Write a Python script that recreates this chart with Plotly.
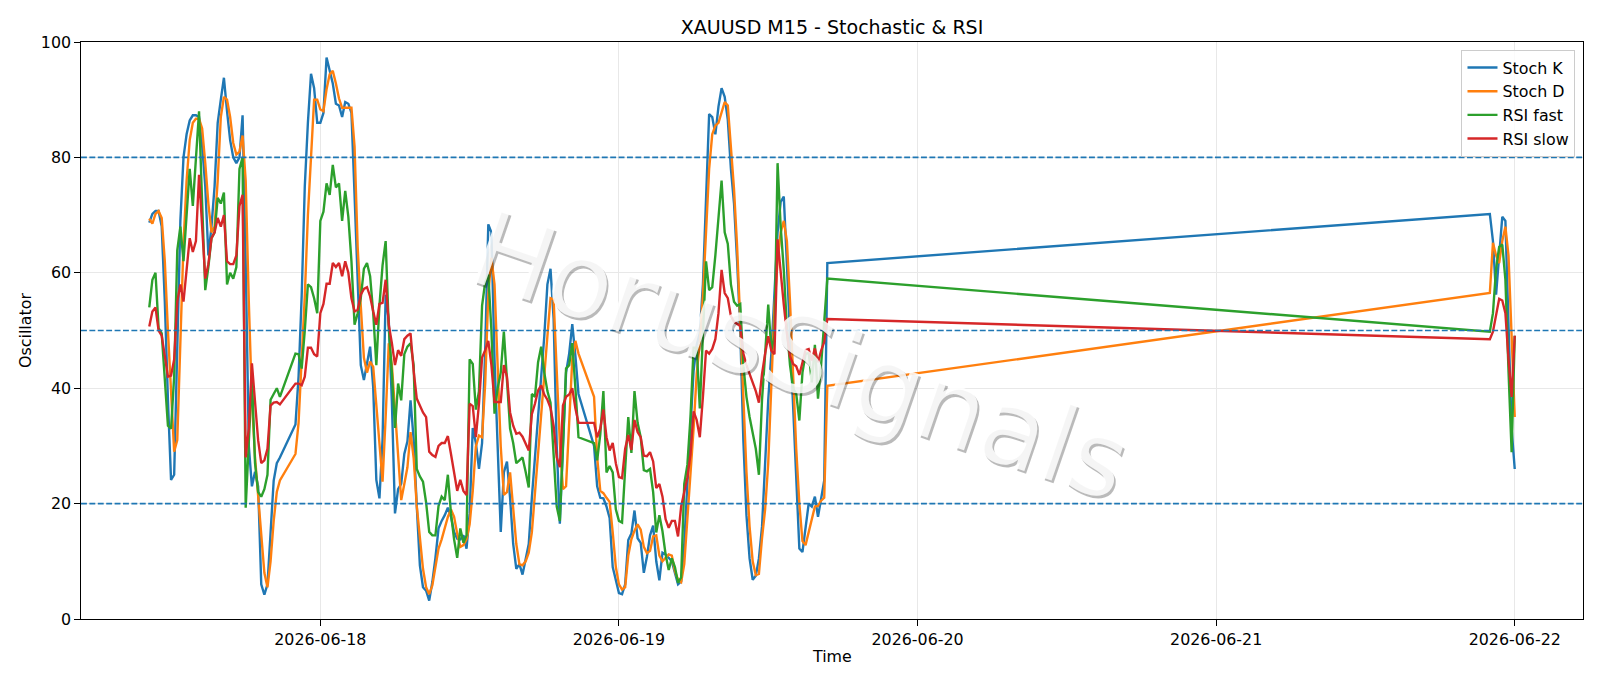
import pandas as pd
import plotly.graph_objects as go

# ---------------- data ----------------
# M15 bars, grouped in trading sessions (start time, number of bars)
session_starts = ["2026-06-17 10:15", "2026-06-17 22:00", "2026-06-18 22:00", "2026-06-21 22:00"]
session_bars = [43, 92, 76, 9]

stoch_k = [
    # session 1
    68.7, 70.2, 70.7, 70.7, 68, 55, 38, 24.1, 25, 45,
    69, 80, 84, 86.4, 87.3, 87.3, 87, 82, 75, 63,
    68, 75, 86, 90, 93.8, 88, 83, 80, 79, 80,
    87.3, 62, 30, 23, 25.5, 23, 6, 4.2, 6, 15,
    24, 27, 28,
    # session 2
    33.7, 42, 56, 75, 86, 94.5, 92, 86,
    86, 87.7, 97.3, 94.9, 92.8, 89.3, 89, 87, 89.6, 89.3,
    87.7, 73.5, 58.8, 44, 41.4, 44, 47.2, 40.1, 24.1, 20.9,
    31.1, 56.2, 51.7, 37.6, 18.3, 22.5, 23.4, 28.6, 30.8, 37.9,
    31.1, 19.6, 9.3, 5.5, 4.9, 3.2, 6.4, 10.6, 15.7, 17,
    18, 19.3, 17.7, 15.1, 13.9, 13.8, 14.5, 12.2, 18.3, 33.1,
    30.5, 26, 30.5, 46.6, 68.4, 67, 45, 30, 15.1, 25.4,
    27.3, 21, 13, 8.7, 9.5, 7.7, 10.5, 13, 21, 28,
    36, 42, 49, 58, 60.7, 52, 30, 16.5, 29, 42.7,
    46, 51.1, 45.6, 39,
    # session 3
    30, 23, 21, 20.9, 19.5, 17.5, 9, 6.9, 4.5, 4.3,
    6, 13.7, 14.8, 18.8, 14, 13.2, 8, 10.8, 14.5, 16.2,
    10, 6.7, 11.5, 11.2, 10.6, 10, 8, 6, 6.5, 13,
    23.4, 32.5, 43, 47.5, 49.5, 58, 73, 87.5, 87, 84,
    88.8, 92, 90.5, 86.5, 78, 72, 62, 50, 31, 18,
    10.5, 6.8, 7.5, 10.5, 16, 28, 38, 46, 57, 67,
    72.3, 73.2, 61.5, 49, 36, 23, 12.2, 11.6, 15.5, 20,
    19.5, 21.2, 17.7, 20.9, 24, 61.7,
    # session 4
    70.2, 65.5, 56.2, 63, 69.7, 69, 52, 33, 26,
]

stoch_d = [
    # session 1
    69.4, 68.5, 70.2, 70.7, 69.5, 62, 50, 40, 29, 31,
    48, 65, 76, 83, 86, 86.7, 86.7, 85, 79, 72,
    67, 68, 76, 87, 90.5, 90, 87, 82.5, 80.5, 81,
    83.8, 76, 55, 38, 28, 21, 14, 8, 5.5, 10,
    17, 22, 24,
    # session 2
    28.6, 34, 44, 56, 70, 81, 90, 90,
    88.3, 88, 91.8, 94.4, 95, 92.8, 90.2, 88.6, 88.6, 88.6,
    88.6, 81.9, 64.5, 54.3, 45.3, 42.7, 44.6, 43.7, 36.9, 29.9,
    23.8, 35, 47.8, 44, 36.3, 29.9, 20.6, 23.4, 26.3, 32.4,
    27.9, 19.6, 13.8, 8.7, 5.5, 4.3, 5.8, 8.7, 12.2, 13.8,
    15.7, 17.7, 19, 17.7, 14.8, 12.5, 12.8, 13.8, 16.4, 22.2,
    29.9, 31.8, 31.5, 40.8, 56.2, 62.6, 58, 42.7, 29.9, 21.5,
    22, 25.4, 19.5, 13, 9.5, 9.3, 10, 11.5, 15, 22,
    28, 36.3, 42.7, 49, 55.6, 55.4, 43, 30.5, 22.5, 23,
    34, 45, 48.2, 46,
    # session 3
    38.5, 28, 22.2, 21.8, 21, 20.3, 15, 9, 6, 5.1,
    5.5, 11, 13.8, 15.3, 16.4, 15.5, 12.5, 11.4, 11.8, 14.3,
    14.5, 11, 10, 10.7, 11.2, 11, 8.3, 6.8, 6.4, 9.5,
    17, 26, 33, 42.5, 48, 56, 68, 78, 84, 85.5,
    86, 87.8, 89.6, 89, 82.5, 74.5, 64.5, 51, 38.5, 25.5,
    16, 10, 7.6, 7.8, 14, 19, 27, 41, 54, 62,
    67, 69, 65.5, 55, 42, 29.5, 20, 13.5, 12.8, 15.2,
    17.2, 19.5, 19.6, 20.5, 21, 40.4,
    # session 4
    56.5, 65.2, 63, 61.7, 65.5, 68, 63, 49, 35,
]

rsi_fast = [
    # session 1
    54, 58.8, 60, 50.4, 49.5, 42, 33.5, 33, 42, 63.9,
    68, 62, 70, 78, 71.6, 79, 88, 72, 57, 61,
    66, 67, 73, 72, 73.9, 58, 60, 59, 61, 78,
    80, 19.3, 30, 42, 27, 22, 21.2, 22.5, 25, 38,
    39, 40, 38.5,
    # session 2
    46, 45.9, 43.4, 50, 58, 57.5, 55.6, 53,
    69, 70.6, 75.5, 73.5, 78.7, 74.8, 75.5, 69, 74.2, 69.7,
    62, 51, 53, 55.6, 60.7, 61.7, 59.4, 53, 44, 54.3,
    61.3, 65.5, 50.4, 42.7, 33.1, 40.8, 37.9, 45.9, 47.2, 47.8,
    44, 26, 24.7, 23.8, 20.2, 15.1, 14.5, 14.5, 19.6, 21.2,
    20.6, 25, 18.3, 13.8, 10.6, 15.7, 13.2, 14.5, 45, 44.2,
    36.3, 39.5, 54.3, 58.4, 59.7, 50, 35.6, 40, 42.7, 49.8,
    42, 33, 30.5, 27, 27.5, 28, 25.5, 22.8, 39, 38.5,
    44.5, 47.2, 42.7, 39.5, 37.5, 29, 19.5, 17, 31.5, 43.4,
    44, 47.8, 40, 31.5,
    # session 3
    30.5, 27.5, 32, 39.5, 25.4, 26.5, 25.4, 19, 17, 16.7,
    26, 35, 28.8, 39.5, 34, 31.5, 25.8, 25.6, 26, 22,
    15, 18, 15.2, 11.2, 8.5, 10.5, 9, 6.3, 7.2, 23.4,
    26.7, 35, 47, 47, 36.5, 48, 62, 57, 57.5, 63,
    70, 76, 67, 65, 58, 55, 54.3, 54.6, 44, 38.5,
    35, 32.5, 29.5, 25, 38, 45.9, 54.5, 46.6, 49, 79,
    68, 60.5, 50.5, 44, 40, 39, 34.4, 42.7, 45.9, 46.2,
    41, 47.5, 38.2, 44, 51, 59,
    # session 4
    49.8, 53, 60.7, 64.5, 64.9, 58.8, 43, 28.9, 49.1,
]

rsi_slow = [
    # session 1
    50.7, 53.3, 54, 50, 49.1, 45.5, 42, 42.2, 45, 55,
    58, 55, 61, 66, 63.6, 65.5, 77, 68, 59, 61.5,
    66, 67, 69.5, 68, 70, 62, 61.5, 61.5, 63, 71.6,
    73.5, 28, 33, 44.3, 38, 31, 27, 27.5, 29.5, 37,
    37.5, 37.6, 37.2,
    # session 2
    40.8, 40.8, 40.5, 42, 47, 47, 45.9, 45.5,
    53, 54.6, 58.1, 58.1, 61.7, 61, 61.7, 59.4, 62, 60,
    55.6, 53.3, 53.6, 56.2, 57.2, 57.5, 55.9, 53.3, 51, 54.6,
    54.8, 58.8, 51, 47.8, 44, 46.6, 45.6, 48.5, 49.1, 49.5,
    43, 38.2, 37, 35.8, 35, 29, 28.4, 28.1, 30, 30.5,
    30.5, 31.7, 28.6, 25.4, 22.2, 24.1, 22.2, 21.5, 37.3, 36.9,
    31.5, 37.3, 45.3, 46.6, 48.2, 44, 37.6, 37.6, 37.6, 44,
    42, 35.8, 33.5, 32.1, 32.3, 31.6, 30.4, 29.2, 35.5, 37.3,
    39.6, 40.5, 38.9, 38, 36.6, 33.5, 28, 26.3, 37, 38.5,
    38.9, 40, 36.5, 34,
    # session 3
    34, 31.5, 33, 36.3, 31.5, 29.2, 30.5, 27, 24.6, 24.4,
    29.5, 31.9, 29.3, 34.5, 32.4, 31.5, 28.3, 28.2, 28.9, 27.3,
    22.7, 23.4, 21.2, 17.3, 15.8, 17, 17, 14.3, 19.5, 22.3,
    24.5, 28.5, 36, 34.5, 31.5, 38.5, 46.5, 46, 46.8, 48.5,
    53, 60.5, 56.5, 55.6, 52.5, 51.5, 51.2, 50.8, 46, 44,
    42.5, 41, 39.5, 37.5, 42.5, 46, 49, 46.5, 45.9, 65.8,
    59.5, 54.5, 49.5, 45.5, 44.2, 43.8, 42.3, 44.5, 46.6, 46.8,
    44.8, 46.9, 44.5, 46.5, 48, 52,
    # session 4
    48.5, 49.8, 53, 55.5, 55.2, 53, 45, 38.5, 49.1,
]

series_names = ["Stoch K", "Stoch D", "RSI fast", "RSI slow"]
series_colors = ["#1f77b4", "#ff7f0e", "#2ca02c", "#d62728"]
ref_levels = [20, 50, 80]
y_ticks = [0, 20, 40, 60, 80, 100]
day_ticks = ["2026-06-18", "2026-06-19", "2026-06-20", "2026-06-21", "2026-06-22"]
title_text = "XAUUSD M15 - Stochastic & RSI"
watermark = "HorusSignals"

# ---------------- build ----------------
times = []
for start, n in zip(session_starts, session_bars):
    times.extend(pd.date_range(start, periods=n, freq="15min"))

FONT = "DejaVu Sans"
PX = 114.3 / 72.0  # matplotlib points -> pixels

fig = go.Figure()
for name, vals, col in zip(series_names, [stoch_k, stoch_d, rsi_fast, rsi_slow], series_colors):
    assert len(vals) == len(times), (name, len(vals), len(times))
    fig.add_trace(go.Scatter(x=times, y=vals, mode="lines", name=name,
                             line=dict(color=col, width=1.5 * PX)))

for lv in ref_levels:
    fig.add_shape(type="line", xref="paper", x0=0, x1=1, yref="y", y0=lv, y1=lv,
                  line=dict(color="#1f77b4", width=1.0 * PX, dash="5.9px,2.5px"),
                  layer="above")

t0, t1 = times[0], times[-1]
pad = (t1 - t0) * 0.05
xr = [t0 - pad, t1 + pad]

axis_common = dict(
    showgrid=True, gridcolor="#e8e8e8", gridwidth=0.8 * PX,
    ticks="outside", ticklen=3.5 * PX, tickwidth=0.8 * PX, tickcolor="black",
    showline=True, mirror=True, linecolor="black", linewidth=0.8 * PX,
    zeroline=False, tickfont=dict(family=FONT, size=10 * PX, color="black"),
)

fig.update_xaxes(type="date", range=xr, tickvals=day_ticks, ticktext=day_ticks, **axis_common)
fig.update_yaxes(range=[0, 100], tickvals=y_ticks, **axis_common)

# watermark: shadow + light fill
wm_x, wm_y = 0.4790, 0.455
fig.add_annotation(text=watermark, xref="paper", yref="paper", x=wm_x, y=wm_y,
                   showarrow=False, textangle=19, xshift=2.5, yshift=-2.5,
                   font=dict(family=FONT, size=105, color="rgba(0,0,0,0.27)"))
fig.add_annotation(text=watermark, xref="paper", yref="paper", x=wm_x, y=wm_y,
                   showarrow=False, textangle=19,
                   font=dict(family=FONT, size=105, color="rgba(255,255,255,0.86)"))

# axis titles
fig.add_annotation(text="Time", xref="paper", yref="paper", x=0.5, y=-0.0642,
                   showarrow=False, xanchor="center", yanchor="middle",
                   font=dict(family=FONT, size=10 * PX, color="black"))
fig.add_annotation(text="Oscillator", xref="paper", yref="paper", x=-0.037, y=0.5,
                   showarrow=False, xanchor="center", yanchor="middle", textangle=-90,
                   font=dict(family=FONT, size=10 * PX, color="black"))

fig.update_layout(
    width=1600, height=686,
    margin=dict(l=81, r=17, t=42, b=67),
    paper_bgcolor="white", plot_bgcolor="white",
    title=dict(text=title_text, x=0.5, xref="paper", y=1 - 27 / 686, yref="container",
               xanchor="center", yanchor="middle",
               font=dict(family=FONT, size=12 * PX, color="black")),
    legend=dict(x=0.995, y=0.9866, xanchor="right", yanchor="top",
                bgcolor="rgba(255,255,255,0.8)", bordercolor="#cccccc", borderwidth=1,
                font=dict(family=FONT, size=10 * PX, color="black"),
                tracegroupgap=0),
    showlegend=True,
    font=dict(family=FONT),
)

fig.write_html("out.html")
